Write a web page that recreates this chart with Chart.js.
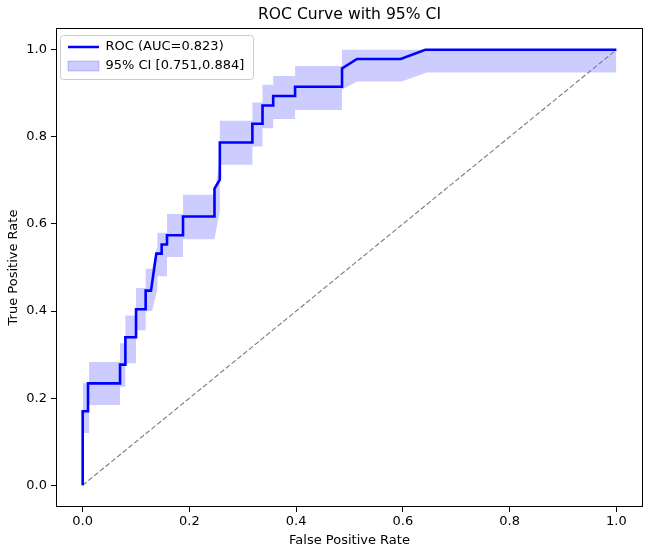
<!DOCTYPE html>
<html>
<head>
<meta charset="utf-8">
<title>ROC Curve with 95% CI</title>
<script src="https://cdn.jsdelivr.net/npm/chart.js@4.4.1/dist/chart.umd.min.js"></script>
<style>
  body { margin: 0; background: #fff; }
  #wrap { width: 647px; height: 549px; position: relative; }
</style>
</head>
<body>
<div id="wrap"><canvas id="rocChart"></canvas></div>
<script>
// roc curve points
const rocFpr = [0, 0, 0.01, 0.01, 0.07, 0.07, 0.08, 0.08, 0.10, 0.10, 0.118, 0.118,
  0.128, 0.138, 0.148, 0.148, 0.158, 0.158, 0.188, 0.188, 0.247, 0.247, 0.257, 0.257,
  0.318, 0.318, 0.337, 0.337, 0.357, 0.357, 0.398, 0.398, 0.486, 0.486, 0.514, 0.596, 0.642, 1.0];
const rocTpr = [0, 0.170, 0.170, 0.234, 0.234, 0.277, 0.277, 0.340, 0.340, 0.404, 0.404, 0.447,
  0.447, 0.532, 0.532, 0.553, 0.553, 0.574, 0.574, 0.617, 0.617, 0.681, 0.702, 0.787,
  0.787, 0.830, 0.830, 0.872, 0.872, 0.894, 0.894, 0.915, 0.915, 0.957, 0.979, 0.979, 1.0, 1.0];

// 95% CI band edges
const ciUpperX = [0, 0.012, 0.012, 0.07, 0.07, 0.08, 0.08, 0.10, 0.10, 0.118, 0.118, 0.13,
  0.14, 0.14, 0.158, 0.158, 0.188, 0.188, 0.247, 0.257, 0.257, 0.318, 0.318, 0.337, 0.337,
  0.357, 0.357, 0.398, 0.398, 0.486, 0.486, 1.0];
const ciUpperY = [0.234, 0.234, 0.283, 0.283, 0.326, 0.326, 0.39, 0.39, 0.453, 0.453, 0.497, 0.497,
  0.55, 0.58, 0.58, 0.623, 0.623, 0.667, 0.667, 0.75, 0.837, 0.837, 0.879, 0.879, 0.92,
  0.92, 0.94, 0.94, 0.963, 0.963, 1.0, 1.0];
const ciLowerX = [0, 0.012, 0.012, 0.07, 0.07, 0.08, 0.08, 0.10, 0.10, 0.118, 0.118, 0.13,
  0.14, 0.14, 0.158, 0.158, 0.188, 0.188, 0.247, 0.257, 0.257, 0.318, 0.318, 0.337, 0.337,
  0.357, 0.357, 0.398, 0.398, 0.486, 0.486, 0.514, 0.598, 0.645, 1.0];
const ciLowerY = [0.12, 0.12, 0.184, 0.184, 0.226, 0.226, 0.28, 0.28, 0.356, 0.356, 0.40, 0.40,
  0.45, 0.48, 0.48, 0.524, 0.524, 0.565, 0.565, 0.63, 0.736, 0.736, 0.778, 0.778, 0.82,
  0.82, 0.841, 0.841, 0.862, 0.862, 0.908, 0.927, 0.927, 0.948, 0.948];

const chanceX = [0, 1];
const chanceY = [0, 1];

const aucValue = 0.823;
const ciBounds = [0.751, 0.884];

const tickValues = [0, 0.2, 0.4, 0.6, 0.8, 1.0];
const tickLabels = ["0.0", "0.2", "0.4", "0.6", "0.8", "1.0"];

const rocColor = "#0000ff";
const bandColor = "rgba(0, 0, 255, 0.2)";

function toPoints(xs, ys) {
  return xs.map((x, i) => ({ x: x, y: ys[i] }));
}

Chart.defaults.font.family = "'DejaVu Sans', sans-serif";
Chart.defaults.font.size = 13;
Chart.defaults.color = "#000";

// matplotlib-ish frame, centred title and boxed legend inside the axes
const mplLook = {
  id: "mplLook",
  afterLayout(chart) {
    const area = chart.chartArea;
    const t = chart.titleBlock;
    t.left = area.left;
    t.right = area.right;
    t.width = area.right - area.left;
    // legend resets its top in chartArea mode, so place it by hand
    const lg = chart.legend;
    const w = lg.width, h = lg.height;
    lg.left = area.left + 6;
    lg.top = area.top + 6.5;
    lg.right = lg.left + w;
    lg.bottom = lg.top + h;
  },
  beforeDraw(chart) {
    const ctx = chart.ctx;
    const lg = chart.legend;
    let maxW = 0;
    lg.legendHitBoxes.forEach((b) => { maxW = Math.max(maxW, b.width); });
    const x = lg.left - 2, y = lg.top + 0.5;
    const w = maxW + 17, h = 44;
    ctx.save();
    ctx.fillStyle = "rgba(255,255,255,0.8)";
    ctx.strokeStyle = "#cccccc";
    ctx.lineWidth = 1;
    ctx.beginPath();
    if (ctx.roundRect) ctx.roundRect(Math.round(x) + 0.5, Math.round(y) + 0.5, Math.round(w), h, 3);
    else ctx.rect(Math.round(x) + 0.5, Math.round(y) + 0.5, Math.round(w), h);
    ctx.fill();
    ctx.stroke();
    ctx.restore();
  },
  afterDatasetsDraw(chart) {
    const { ctx, chartArea } = chart;
    ctx.save();
    ctx.strokeStyle = "#000";
    ctx.lineWidth = 1;
    ctx.strokeRect(Math.round(chartArea.left) + 0.5, Math.round(chartArea.top) + 0.5,
      Math.round(chartArea.right - chartArea.left) - 1, Math.round(chartArea.bottom - chartArea.top) - 1);
    ctx.restore();
  }
};

function axisOptions(label, isX) {
  return {
    type: "linear",
    min: -0.05,
    max: 1.05,
    afterBuildTicks: (axis) => { axis.ticks = tickValues.map((v) => ({ value: v })); },
    afterFit: (axis) => { if (isX) axis.height = 42; else axis.width = 56; },
    ticks: {
      callback: (value, index) => tickLabels[index],
      padding: isX ? 2 : 4,
      color: "#000",
      maxRotation: 0
    },
    grid: {
      display: true,
      drawOnChartArea: false,
      drawTicks: true,
      tickLength: 5,
      color: "#000",
      tickColor: "#000"
    },
    border: { display: false },
    title: {
      display: true,
      text: label,
      color: "#000",
      font: { size: 13 },
      padding: isX ? { top: 0, bottom: 1 } : { top: 6, bottom: 0 }
    }
  };
}

const ctx = document.getElementById("rocChart");
new Chart(ctx, {
  type: "line",
  data: {
    datasets: [
      {
        label: "ROC",
        data: toPoints(rocFpr, rocTpr),
        borderColor: rocColor,
        borderWidth: 2.6,
        pointRadius: 0,
        fill: false,
        tension: 0
      },
      {
        label: "chance",
        data: toPoints(chanceX, chanceY),
        borderColor: "#7a7a7a",
        borderWidth: 1.1,
        borderDash: [5, 2.4],
        pointRadius: 0,
        fill: false
      },
      {
        label: "ci upper",
        data: toPoints(ciUpperX, ciUpperY),
        borderColor: "rgba(0,0,0,0)",
        borderWidth: 0,
        backgroundColor: bandColor,
        pointRadius: 0,
        fill: "+1"
      },
      {
        label: "ci lower",
        data: toPoints(ciLowerX, ciLowerY),
        borderColor: "rgba(0,0,0,0)",
        borderWidth: 0,
        pointRadius: 0,
        fill: false
      }
    ]
  },
  options: {
    responsive: true,
    maintainAspectRatio: false,
    animation: false,
    layout: { padding: { left: 0, right: 4, top: 0, bottom: 0 } },
    scales: {
      x: axisOptions("False Positive Rate", true),
      y: axisOptions("True Positive Rate", false)
    },
    plugins: {
      title: {
        display: true,
        text: "ROC Curve with 95% CI",
        color: "#000",
        font: { size: 15.6, weight: "normal" },
        padding: { top: 6, bottom: 3.3 }
      },
      legend: {
        position: "chartArea",
        align: "start",
        labels: {
          usePointStyle: true,
          pointStyleWidth: 31,
          boxHeight: 10,
          padding: 6,
          color: "#000",
          font: { size: 13 },
          generateLabels: () => [
            {
              text: "ROC (AUC=" + aucValue.toFixed(3) + ")",
              strokeStyle: rocColor,
              fillStyle: rocColor,
              lineWidth: 2.6,
              pointStyle: "line",
              fontColor: "#000",
              datasetIndex: 0
            },
            {
              text: "95% CI [" + ciBounds[0].toFixed(3) + "," + ciBounds[1].toFixed(3) + "]",
              strokeStyle: bandColor,
              fillStyle: bandColor,
              lineWidth: 1,
              pointStyle: "rect",
              fontColor: "#000",
              datasetIndex: 2
            }
          ]
        }
      },
      tooltip: { enabled: false }
    }
  },
  plugins: [mplLook]
});
</script>
</body>
</html>
